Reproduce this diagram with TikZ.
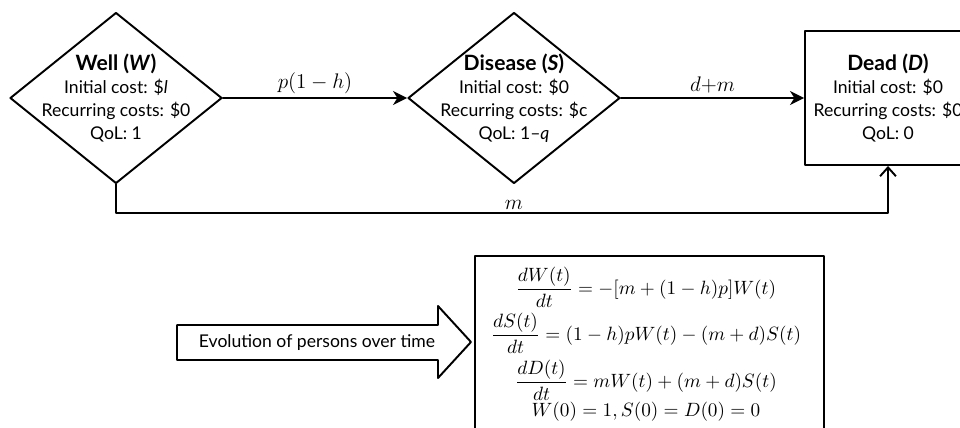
\documentclass[tikz,border=0pt]{standalone}
\usepackage{amsmath}
\usepackage{fontspec}
\setmainfont{Lato}
\usepackage{tikz}
\usetikzlibrary{arrows.meta,calc,positioning,shapes.geometric}
\newcommand{\statetitle}[1]{{\fontsize{12}{13}\selectfont\textbf{#1}}}
\tikzset{
  every picture/.append style={line cap=round,line join=round},
  markov diamond/.style={diamond,draw,line width=1.1pt,minimum width=4.24cm,minimum height=3.42cm,inner sep=0pt},
  markov box/.style={rectangle,draw,line width=1.1pt,minimum width=3.32cm,minimum height=2.68cm,align=center,font=\fontsize{10}{13}\selectfont},
  markov text/.style={align=center,font=\fontsize{10}{13}\selectfont},
  markov flow/.style={line width=1.1pt,-{Stealth[length=8pt,width=8pt,inset=2.5pt]}},
  markov death/.style={line width=1.1pt,-{Straight Barb[length=5pt,width=9pt]}},
  markov rate/.style={font=\fontsize{12}{13}\selectfont,inner sep=2pt},
  markov eqbox/.style={draw,line width=1.2pt,minimum width=6.98cm,minimum height=5cm,anchor=north},
  markov eq/.style={font=\fontsize{11.3}{13}\selectfont,inner sep=0pt}
}

\begin{document}
\begin{tikzpicture}[x=0.02cm, y=-0.02cm, >=Stealth]
  \useasboundingbox (0,0) rectangle (960,427);
  % states
  \node[markov diamond] (well) at (116,98) {};
  \node[markov text] (welltxt) at (well) {\statetitle{Well (\textit{W})}\\Initial cost: \$\textit{l}\\Recurring costs: \$0\\QoL: 1};
  \node[markov diamond] (disease) at (514,98) {};
  \node[markov text] (diseasetxt) at (disease) {\statetitle{Disease (\textit{S})}\\Initial cost: \$0\\Recurring costs: \$c\\QoL: 1--\textit{q}};
  \node[markov box] (dead) at (888,98) {\statetitle{Dead (\textit{D})}\\Initial cost: \$0\\Recurring costs: \$0\\QoL: 0};
  % transitions
  \draw[markov flow] (well.east) -- node[markov rate, above] {$p(1-h)$} (disease.west);
  \draw[markov flow] (disease.east) -- node[markov rate, above] {$d{+}m$} (dead.west);
  \coordinate (mcorner) at (888,213);
  \draw[markov death] (well.south) |- (mcorner) -- (dead.south);
  \node[markov rate, above] (mlabel) at (disease.south |- mcorner) {$m$};
  % evolution arrow
  \draw[line width=1.1pt] (177,325) -- (438,325) -- (438,306) -- (471,342) -- (438,378) -- (438,360) -- (177,360) -- cycle;
  \node[markov text] (evolution) at (317,343) {Evolution of persons over time};
  % equations
  \node[markov eqbox] (eqbox) at (649.5,255) {};
  \node[markov eq] (eq1) at (646,287) {$\dfrac{dW(t)}{dt} = -[m+(1-h)p]W(t)$};
  \node[markov eq] (eq2) at (646,333) {$\dfrac{dS(t)}{dt} = (1-h)pW(t) - (m+d)S(t)$};
  \node[markov eq] (eq3) at (646,380) {$\dfrac{dD(t)}{dt} = mW(t) + (m+d)S(t)$};
  \node[markov eq] (eq4) at (646,412) {$W(0) = 1, S(0) = D(0) = 0$};
\end{tikzpicture}
\end{document}
